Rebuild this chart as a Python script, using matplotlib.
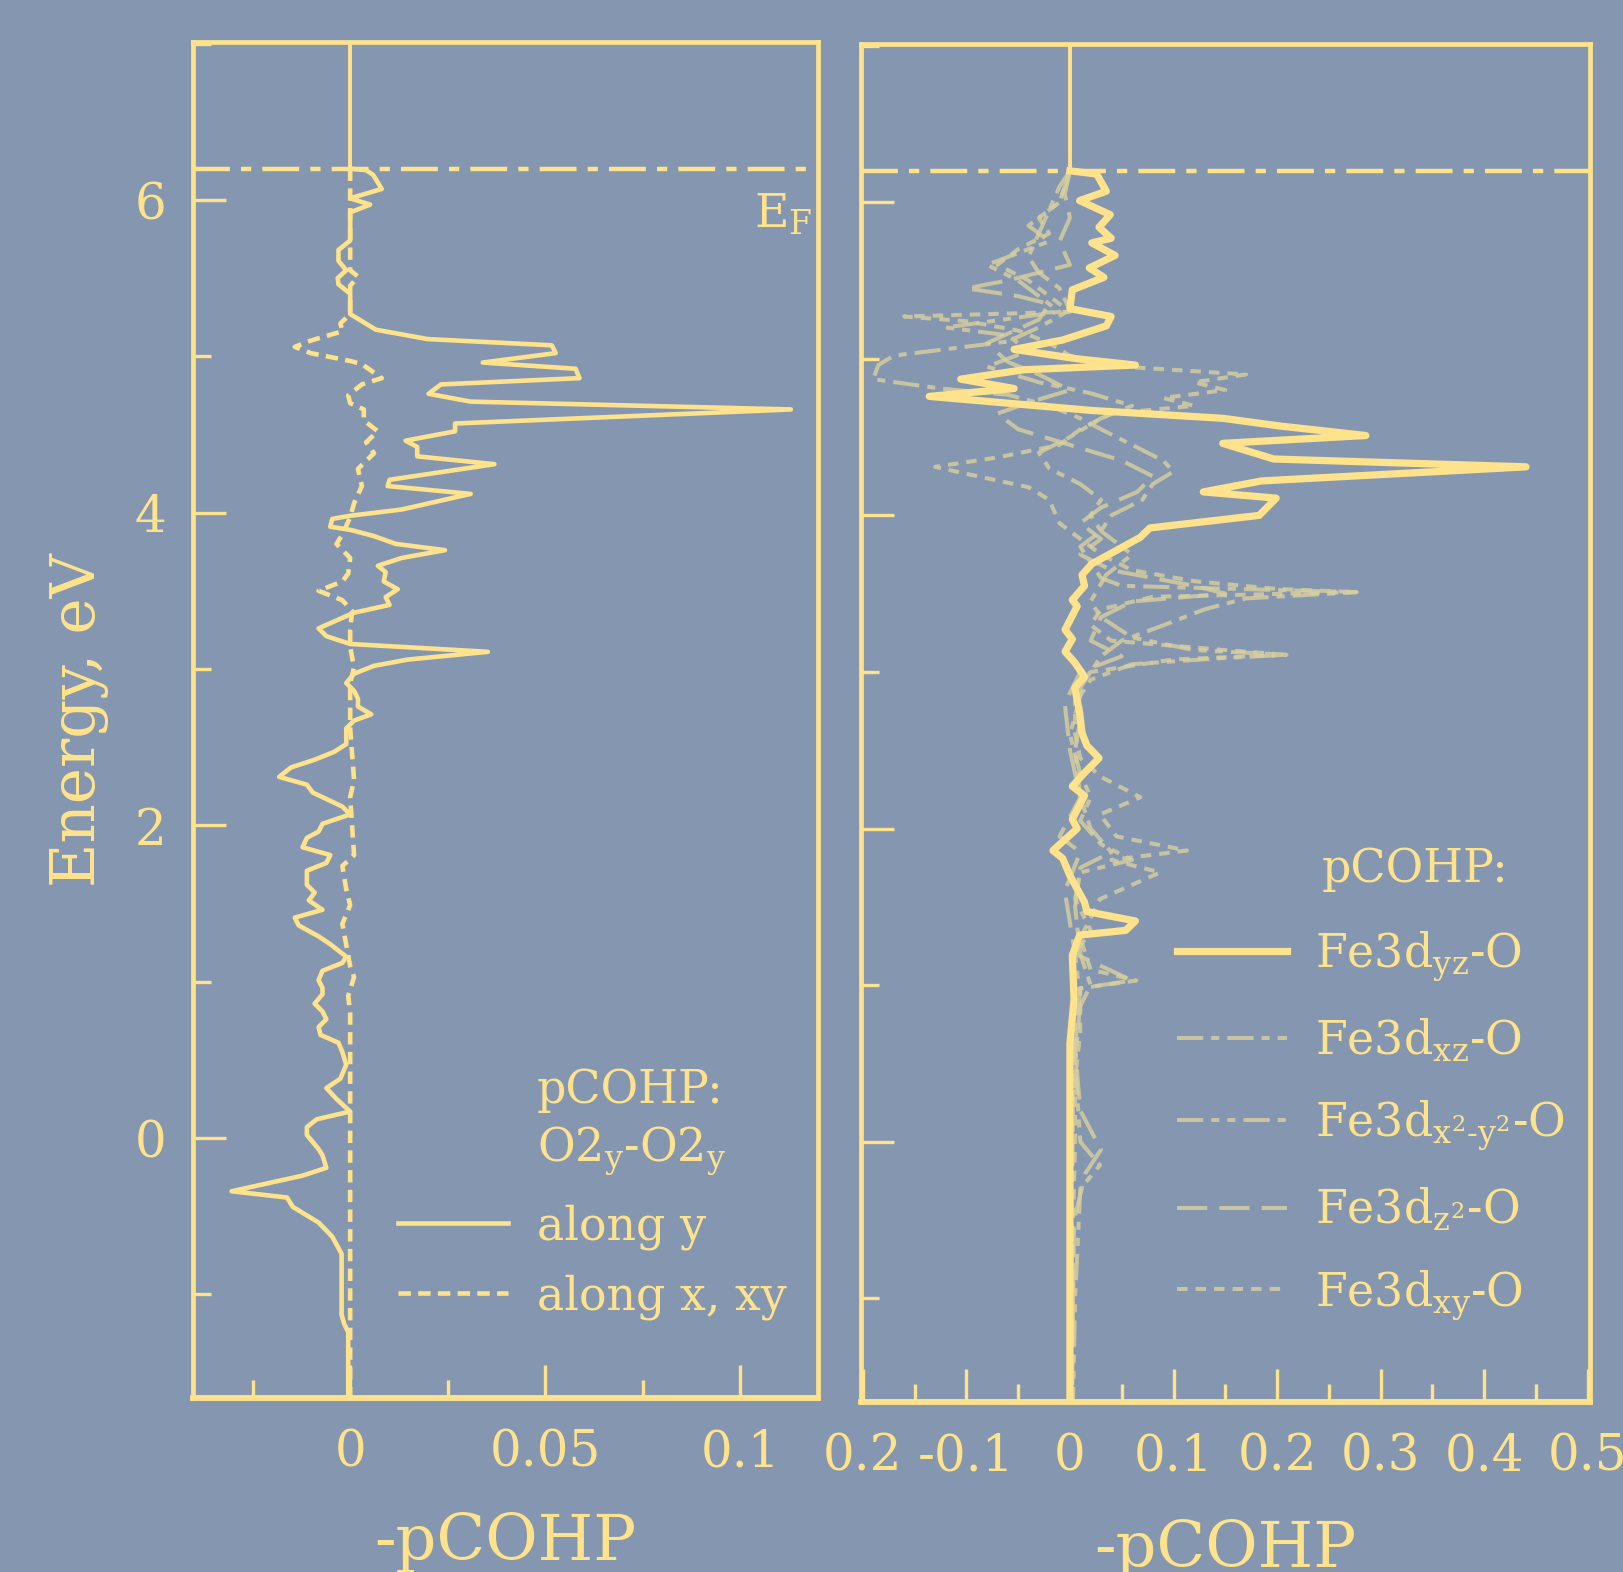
import numpy as np
import matplotlib.pyplot as plt
from matplotlib.ticker import FixedLocator

plt.rcParams['font.family'] = 'DejaVu Serif'
plt.rcParams['mathtext.fontset'] = 'dejavuserif'

BG = '#8597B0'
YEL = '#FFE38C'
GRAY = '#D8CF9F'

e_fermi = 6.2
e_lim = (-1.66, 7.01)

# left panel: O2y-O2y pCOHP, (energy, -pCOHP) pairs
along_y = [(6.2, 0), (6.19, 0.0041), (6.16, 0.0059), (6.07, 0.0081), (6.01, 0), (5.97, 0.0051),
           (5.92, 0), (5.74, 0), (5.68, -0.003), (5.61, -0.003), (5.55, -0.001), (5.50, -0.0032),
           (5.46, -0.003), (5.40, 0), (5.27, 0), (5.17, 0.0066), (5.11, 0.0198), (5.07, 0.0517),
           (5.02, 0.0527), (4.96, 0.034), (4.92, 0.0578), (4.86, 0.0588), (4.82, 0.0233),
           (4.76, 0.0201), (4.71, 0.0309), (4.66, 0.113), (4.57, 0.0269), (4.52, 0.0269),
           (4.46, 0.0142), (4.42, 0.0172), (4.36, 0.0172), (4.31, 0.037), (4.21, 0.0101),
           (4.17, 0.0096), (4.12, 0.0309), (4.02, 0.0132), (3.98, 0), (3.96, -0.0046),
           (3.91, -0.0051), (3.89, 0), (3.85, 0.0061), (3.80, 0.0117), (3.76, 0.0243),
           (3.71, 0.0132), (3.66, 0.0071), (3.62, 0.0091), (3.56, 0.0086), (3.51, 0.0122),
           (3.46, 0.0091), (3.41, 0.0101), (3.36, 0.001), (3.26, -0.0081), (3.21, -0.0061),
           (3.16, 0), (3.11, 0.0353), (3.06, 0.0147), (3.02, 0.0061), (2.97, 0.001), (2.91, -0.001),
           (2.86, 0.001), (2.81, 0.002), (2.76, 0.002), (2.71, 0.0054), (2.67, 0.001), (2.62, -0.001),
           (2.52, -0.001), (2.47, -0.0041), (2.42, -0.0091), (2.37, -0.0152), (2.31, -0.0182),
           (2.26, -0.0111), (2.21, -0.0096), (2.12, -0.002), (2.07, 0), (2.01, -0.0071),
           (1.96, -0.0081), (1.92, -0.0111), (1.86, -0.0122), (1.81, -0.0051), (1.76, -0.0061),
           (1.71, -0.0111), (1.62, -0.0111), (1.57, -0.0091), (1.52, -0.0106), (1.46, -0.0071),
           (1.41, -0.0142), (1.36, -0.0132), (1.29, -0.0081), (1.24, -0.0051), (1.16, -0.001),
           (1.12, -0.002), (1.07, -0.0071), (1.01, -0.0081), (0.96, -0.0071), (0.92, -0.0071),
           (0.86, -0.0091), (0.81, -0.0071), (0.76, -0.0061), (0.71, -0.0081), (0.66, -0.0076),
           (0.61, -0.003), (0.55, -0.002), (0.47, -0.001), (0.38, -0.0025), (0.32, -0.0061),
           (0.25, -0.0035), (0.17, 0), (0.12, -0.0086), (0.07, -0.0111), (0.02, -0.0111),
           (-0.07, -0.0081), (-0.11, -0.0071), (-0.19, -0.0061), (-0.24, -0.0122), (-0.34, -0.0304),
           (-0.38, -0.0162), (-0.44, -0.0147), (-0.54, -0.0081), (-0.63, -0.0046), (-0.74, -0.0022),
           (-1.13, -0.0022), (-1.19, -0.0015), (-1.24, -0.0005), (-1.66, -0.0005)]

along_x = [(6.2, 0), (5.55, 0), (5.51, 0.002), (5.45, 0), (5.27, 0), (5.21, -0.0025), (5.16, -0.002),
           (5.10, -0.0101), (5.06, -0.0142), (5.02, -0.0101), (4.97, 0), (4.95, 0.003), (4.86, 0.0081),
           (4.82, 0.003), (4.75, -0.0005), (4.70, 0), (4.66, 0.0035), (4.59, 0.0035), (4.52, 0.0071),
           (4.45, 0.0041), (4.38, 0.0061), (4.28, 0.002), (4.17, 0.003), (4.06, 0.001), (3.97, 0),
           (3.86, -0.002), (3.80, -0.0035), (3.71, 0), (3.61, -0.0005), (3.56, -0.002), (3.50, -0.0081),
           (3.44, -0.002), (3.37, 0.0005), (3.25, 0), (3.14, 0), (3.01, 0.001), (2.91, 0), (2.62, 0),
           (2.29, 0.001), (2.18, 0), (1.81, 0.001), (1.74, -0.002), (1.59, -0.001), (1.49, 0),
           (1.37, -0.002), (1.10, 0), (1.03, 0.001), (0.91, -0.0005), (0.80, 0), (-1.66, 0)]

# right panel: Fe3d-O pCOHP per orbital
fe_yz = [(6.2, 0), (6.18, 0.0258), (6.07, 0.0351), (6.01, 0.0094), (5.92, 0.0389), (5.84, 0.0281),
         (5.77, 0.0398), (5.74, 0.0211), (5.66, 0.0436), (5.58, 0.0187), (5.52, 0.0328),
         (5.44, 0.0023), (5.32, 0), (5.27, 0.0398), (5.21, 0.0351), (5.12, -0.007), (5.06, -0.0539),
         (5.00, 0.007), (4.96, 0.0632), (4.93, -0.0445), (4.87, -0.1054), (4.81, -0.0539),
         (4.76, -0.1358), (4.67, 0.0211), (4.62, 0.1475), (4.57, 0.2037), (4.51, 0.2857),
         (4.46, 0.1475), (4.36, 0.1967), (4.31, 0.4403), (4.22, 0.185), (4.15, 0.1288),
         (4.11, 0.1991), (4.00, 0.1827), (3.92, 0.0773), (3.86, 0.0679), (3.69, 0.0211),
         (3.62, 0.0117), (3.55, 0.0141), (3.46, 0.0023), (3.42, 0.007), (3.27, -0.0047),
         (3.21, 0.0023), (3.13, -0.0047), (3.06, 0.0047), (2.97, 0.0141), (2.90, 0.0047),
         (2.74, 0.0094), (2.61, 0.0117), (2.53, 0.0164), (2.45, 0.0281), (2.34, 0.0117),
         (2.27, 0.0023), (2.21, 0.0141), (2.06, 0.0023), (2.00, 0.007), (1.86, -0.0164),
         (1.81, -0.007), (1.70, 0), (1.53, 0.0141), (1.47, 0.0164), (1.41, 0.0632), (1.35, 0.0539),
         (1.32, 0.0094), (1.19, 0.0023), (0.91, 0.004), (0.63, 0.0), (-1.66, 0.0)]

fe_xz = [(6.2, 0), (6.1, -0.01), (5.95, -0.02), (5.8, -0.03), (5.65, -0.04), (5.55, -0.03),
         (5.45, -0.01), (5.31, 0), (5.2, -0.03), (5.11, -0.06), (5.02, -0.17), (4.96, -0.185),
         (4.87, -0.19), (4.81, -0.125), (4.77, -0.06), (4.70, -0.02), (4.62, 0.01), (4.55, 0.03),
         (4.45, 0.06), (4.35, 0.09), (4.28, 0.1), (4.2, 0.08), (4.1, 0.07), (4.0, 0.04), (3.9, 0.03),
         (3.8, 0.01), (3.7, 0.02), (3.6, 0.03), (3.55, 0.05), (3.51, 0.277), (3.47, 0.17),
         (3.4, 0.13), (3.29, 0.087), (3.2, 0.05), (3.1, 0.03), (3.0, 0.02), (2.9, 0.01), (2.7, 0.01),
         (2.5, 0.005), (2.2, 0.01), (2.0, 0.02), (1.85, 0.04), (1.75, 0.01), (1.5, 0.005),
         (1.2, 0.01), (1.0, 0.02), (0.8, 0.005), (0.3, 0.003), (-0.5, 0.002), (-1.66, 0)]

fe_x2y2 = [(6.2, 0), (6.0, -0.01), (5.85, -0.04), (5.75, -0.02), (5.6, -0.08), (5.5, -0.05),
           (5.4, -0.03), (5.3, -0.01), (5.2, -0.12), (5.15, -0.06), (5.05, -0.04), (4.95, -0.08),
           (4.85, -0.03), (4.78, 0.02), (4.7, 0.06), (4.62, 0.03), (4.5, 0.0), (4.4, -0.03),
           (4.3, -0.02), (4.2, 0.01), (4.1, 0.03), (4.0, 0.02), (3.9, 0.03), (3.75, 0.06),
           (3.62, 0.035), (3.45, 0.02), (3.35, 0.03), (3.22, 0.06), (3.14, 0.12), (3.11, 0.209),
           (3.09, 0.15), (3.05, 0.06), (2.95, 0.02), (2.85, 0.01), (2.6, 0.0), (2.35, 0.01),
           (2.2, 0.02), (2.05, 0.01), (1.9, 0.03), (1.8, 0.06), (1.72, 0.01), (1.55, 0.005),
           (1.35, 0.02), (1.2, 0.005), (0.9, 0.01), (0.5, 0.005), (0.0, 0.01), (-0.15, 0.029),
           (-0.3, 0.01), (-1.0, 0.005), (-1.66, 0.003)]

fe_z2 = [(6.2, 0), (6.05, -0.005), (5.9, 0.0), (5.75, -0.01), (5.6, 0.0), (5.5, -0.06),
         (5.45, -0.1), (5.4, -0.05), (5.35, -0.02), (5.25, -0.03), (5.1, -0.08), (4.98, -0.06),
         (4.9, -0.03), (4.8, 0.0), (4.72, -0.04), (4.65, -0.07), (4.55, -0.05), (4.45, 0.0),
         (4.35, 0.05), (4.25, 0.08), (4.15, 0.065), (4.05, 0.03), (3.95, 0.01), (3.85, 0.03),
         (3.75, 0.01), (3.65, 0.04), (3.55, 0.12), (3.5, 0.15), (3.45, 0.06), (3.35, 0.03),
         (3.2, 0.02), (3.1, 0.05), (3.0, 0.01), (2.8, -0.005), (2.5, 0.0), (2.2, 0.01),
         (1.95, -0.01), (1.85, 0.01), (1.6, -0.005), (1.4, 0.0), (1.2, 0.005), (1.03, 0.06),
         (0.98, 0.01), (0.6, 0.005), (0.2, 0.01), (-0.05, 0.03), (-0.2, 0.015), (-0.5, 0.004),
         (-1.66, 0.002)]

fe_xy = [(6.2, 0), (6.1, -0.005), (6.0, -0.01), (5.9, -0.03), (5.8, -0.02), (5.7, -0.05),
         (5.6, -0.07), (5.5, -0.04), (5.4, -0.02), (5.3, 0.0), (5.27, -0.16), (5.24, -0.1),
         (5.18, -0.05), (5.1, -0.02), (5.02, 0.0), (4.95, 0.05), (4.9, 0.17), (4.85, 0.12),
         (4.8, 0.15), (4.75, 0.09), (4.7, 0.12), (4.65, 0.04), (4.55, 0.01), (4.45, -0.01),
         (4.37, -0.07), (4.31, -0.13), (4.28, -0.11), (4.18, -0.04), (4.1, -0.02), (3.95, -0.01),
         (3.85, 0.01), (3.75, 0.03), (3.65, 0.06), (3.58, 0.12), (3.53, 0.2), (3.51, 0.277),
         (3.48, 0.08), (3.4, 0.03), (3.3, 0.02), (3.2, 0.04), (3.14, 0.15), (3.11, 0.209),
         (3.08, 0.1), (3.0, 0.02), (2.9, 0.005), (2.6, 0.005), (2.45, 0.01), (2.33, 0.03),
         (2.2, 0.068), (2.09, 0.029), (1.95, 0.045), (1.86, 0.113), (1.8, 0.04), (1.72, 0.087),
         (1.55, 0.029), (1.3, 0.01), (1.1, 0.02), (1.03, 0.064), (0.98, 0.01), (0.7, 0.01),
         (0.4, 0.005), (0.0, 0.005), (-0.5, 0.003), (-1.0, 0.003), (-1.66, 0.002)]

left_xticks = [0, 0.05, 0.1]
left_xlabels = ['0', '0.05', '0.1']
right_xticks = [-0.2, -0.1, 0, 0.1, 0.2, 0.3, 0.4, 0.5]
right_xlabels = ['0.2', '-0.1', '0', '0.1', '0.2', '0.3', '0.4', '0.5']
e_ticks = [0, 2, 4, 6]
e_minor = [-1, 1, 3, 5, 7]


def unpack(pairs):
    arr = np.array(pairs)
    return arr[:, 1], arr[:, 0]


def style(ax):
    ax.set_facecolor(BG)
    for s in ax.spines.values():
        s.set_color(YEL)
        s.set_linewidth(3.4)
    ax.spines['bottom'].set_linewidth(4.2)
    ax.tick_params(which='both', direction='in', colors=YEL, width=2.4,
                   top=False, right=False, labelsize=36)
    ax.tick_params(which='major', length=23.5)
    ax.tick_params(which='minor', length=13)
    ax.tick_params(axis='x', pad=22)
    ax.tick_params(axis='y', pad=19)
    ax.set_ylim(*e_lim)
    ax.yaxis.set_major_locator(FixedLocator(e_ticks))
    ax.yaxis.set_minor_locator(FixedLocator(e_minor))
    ax.axhline(e_fermi, color=YEL, lw=3.2, ls=(0, (8.3, 2.5, 2.3, 2.5)))
    frac = (e_fermi - e_lim[0]) / (e_lim[1] - e_lim[0])
    ax.axvline(0, ymin=frac, ymax=1, color=YEL, lw=2.8)


fig = plt.figure(figsize=(16.24, 15.72), dpi=100, facecolor=BG)
ax1 = fig.add_axes([0.1186, 0.1109, 0.3852, 0.8624])
ax2 = fig.add_axes([0.5303, 0.1083, 0.4487, 0.8637])

# ---- left panel
style(ax1)
x, y = unpack(along_y)
l1, = ax1.plot(x, y, color=YEL, lw=3.3)
x, y = unpack(along_x)
l2, = ax1.plot(x, y, color=YEL, lw=3.3, ls=(0, (2.7, 1.6)))
ax1.set_xlim(-0.0404, 0.120)
ax1.set_xticks(left_xticks)
ax1.set_xticklabels(left_xlabels)
ax1.xaxis.set_minor_locator(FixedLocator([-0.025, 0.025, 0.075]))
ax1.set_ylabel('Energy, eV', fontsize=44, color=YEL, va='center')
ax1.yaxis.set_label_coords(-0.182, 0.5)
ax1.set_xlabel('-pCOHP', fontsize=46, color=YEL, va='center')
ax1.xaxis.set_label_coords(0.5, -0.107)
ax1.text(0.1035, 6.05, r'E$_\mathregular{F}$', fontsize=34, color=YEL, ha='left', va='top')
ax1.text(0.55, 0.243, 'pCOHP:\nO2$_\\mathregular{y}$-O2$_\\mathregular{y}$', transform=ax1.transAxes,
         fontsize=33, color=YEL, ha='left', va='top', linespacing=1.3)
ax1.legend([l1, l2], ['along y', 'along x, xy'], loc='upper left', bbox_to_anchor=(0.328, 0.143),
           frameon=False, fontsize=33, handlelength=2.4, handletextpad=0.63, labelspacing=0.53,
           borderpad=0, borderaxespad=0, labelcolor=YEL)

# ---- right panel
style(ax2)
gray_styles = [(fe_xz, (0, (6.5, 2.0, 2.0, 2.0))),
               (fe_x2y2, (0, (6.5, 2.0, 2.0, 2.0, 2.0, 2.0))),
               (fe_z2, (0, (7.5, 3.0))),
               (fe_xy, (0, (2.6, 2.0)))]
gray_lines = []
for data, ls in gray_styles:
    x, y = unpack(data)
    ln, = ax2.plot(x, y, color=GRAY, lw=2.9, ls=ls, alpha=0.82)
    gray_lines.append(ln)
x, y = unpack(fe_yz)
lyz, = ax2.plot(x, y, color=YEL, lw=5.2)
ax2.set_xlim(-0.2015, 0.502)
ax2.set_xticks(right_xticks)
ax2.set_xticklabels(right_xlabels)
ax2.xaxis.set_minor_locator(FixedLocator([-0.15, -0.05, 0.05, 0.15, 0.25, 0.35, 0.45]))
ax2.tick_params(labelleft=False)
ax2.set_xlabel('-pCOHP', fontsize=46, color=YEL, va='center')
ax2.xaxis.set_label_coords(0.5, -0.1085)
ax2.text(0.632, 0.409, 'pCOHP:', transform=ax2.transAxes, fontsize=33, color=YEL,
         ha='left', va='top')
ax2.legend([lyz] + gray_lines,
           [r'Fe3d$_\mathregular{yz}$-O', r'Fe3d$_\mathregular{xz}$-O',
            r'Fe3d$_\mathregular{x^2\text{-}y^2}$-O', r'Fe3d$_\mathregular{z^2}$-O',
            r'Fe3d$_\mathregular{xy}$-O'],
           loc='upper left', bbox_to_anchor=(0.434, 0.348), frameon=False, fontsize=33,
           handlelength=2.4, handletextpad=0.61, labelspacing=0.75, borderpad=0,
           borderaxespad=0, labelcolor=YEL)

fig.savefig('out.png', dpi=100, facecolor=BG)
